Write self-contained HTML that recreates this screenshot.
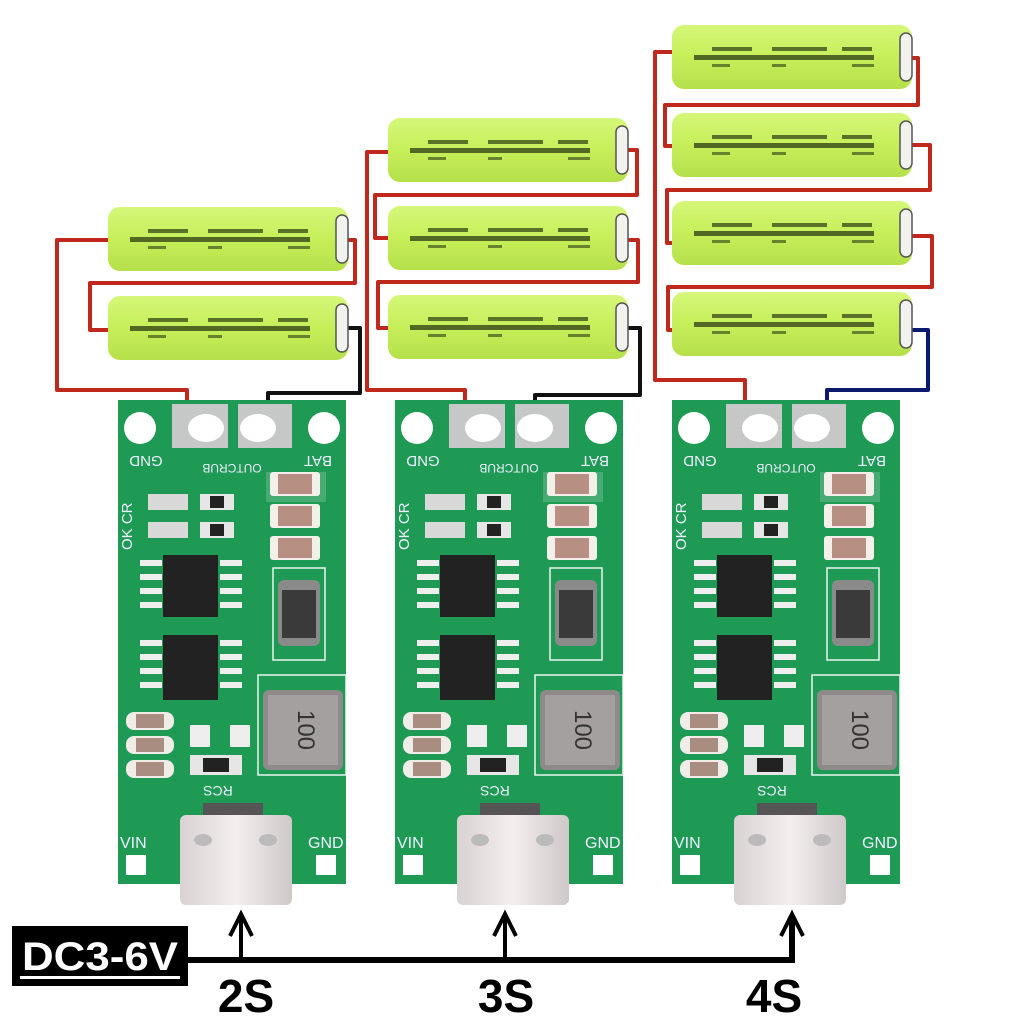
<!DOCTYPE html>
<html><head><meta charset="utf-8"><style>
html,body{margin:0;padding:0;background:#fff;}
svg{display:block;font-family:"Liberation Sans",sans-serif;}
</style></head><body>
<svg width="1024" height="1024" viewBox="0 0 1024 1024">
<defs>
<linearGradient id="bat" x1="0" y1="0" x2="0" y2="1">
<stop offset="0" stop-color="#d6f77a"/><stop offset="0.5" stop-color="#c6ef5a"/><stop offset="1" stop-color="#b6e04a"/>
</linearGradient>
<linearGradient id="usb" x1="0" y1="0" x2="1" y2="0">
<stop offset="0" stop-color="#d8d2d2"/><stop offset="0.5" stop-color="#f4eeee"/><stop offset="1" stop-color="#cfc8c8"/>
</linearGradient>
<g id="battery">
<rect x="0" y="0" width="240" height="64" rx="12" fill="url(#bat)"/>
<rect x="228" y="8" width="12" height="48" rx="6" fill="#f2f2ee" stroke="#555" stroke-width="1.5"/>
<rect x="22" y="30" width="180" height="5" fill="#2b3a10" opacity="0.75"/>
<rect x="40" y="22" width="40" height="4" fill="#2b3a10" opacity="0.7"/>
<rect x="100" y="22" width="55" height="4" fill="#2b3a10" opacity="0.7"/>
<rect x="170" y="22" width="30" height="4" fill="#2b3a10" opacity="0.7"/>
<rect x="40" y="39" width="18" height="3" fill="#2b3a10" opacity="0.6"/>
<rect x="100" y="39" width="14" height="3" fill="#2b3a10" opacity="0.6"/>
<rect x="180" y="39" width="22" height="3" fill="#2b3a10" opacity="0.6"/>
</g>
<g id="board">
<rect x="0" y="0" width="228" height="484" fill="#1e9a55"/>
<circle cx="22" cy="28" r="16" fill="#fff"/>
<circle cx="206" cy="28" r="16" fill="#fff"/>
<rect x="54" y="4" width="56" height="44" fill="#c6c8c8"/>
<ellipse cx="88" cy="28" rx="18" ry="14" fill="#fff"/>
<rect x="120" y="4" width="54" height="44" fill="#c6c8c8"/>
<ellipse cx="140" cy="28" rx="18" ry="14" fill="#fff"/>
<rect x="148" y="72" width="60" height="30" fill="#eee" opacity="0.2"/>
<rect x="152" y="72" width="50" height="24" rx="3" fill="#f3efe9"/><rect x="160" y="74" width="34" height="20" fill="#b79083"/>
<rect x="152" y="104" width="50" height="24" rx="3" fill="#f3efe9"/><rect x="160" y="106" width="34" height="20" fill="#b79083"/>
<rect x="152" y="136" width="50" height="24" rx="3" fill="#f3efe9"/><rect x="160" y="138" width="34" height="20" fill="#b79083"/>
<rect x="155" y="168" width="52" height="92" fill="none" stroke="#eaf5ee" stroke-width="1.5"/>
<rect x="160" y="180" width="42" height="66" rx="6" fill="#8a8a8a"/>
<rect x="164" y="190" width="34" height="48" fill="#3a3a3a"/>
<rect x="30" y="94" width="40" height="16" fill="#d8d8d8"/><rect x="30" y="122" width="40" height="16" fill="#d8d8d8"/>
<rect x="82" y="94" width="34" height="16" fill="#e6e6e6"/><rect x="92" y="96" width="14" height="12" fill="#222"/>
<rect x="82" y="122" width="34" height="16" fill="#e6e6e6"/><rect x="92" y="124" width="14" height="12" fill="#222"/>
<g fill="#eee">
<rect x="22" y="160" width="22" height="6"/><rect x="22" y="174" width="22" height="6"/><rect x="22" y="188" width="22" height="6"/><rect x="22" y="202" width="22" height="6"/>
<rect x="102" y="160" width="22" height="6"/><rect x="102" y="174" width="22" height="6"/><rect x="102" y="188" width="22" height="6"/><rect x="102" y="202" width="22" height="6"/>
<rect x="22" y="240" width="22" height="6"/><rect x="22" y="254" width="22" height="6"/><rect x="22" y="268" width="22" height="6"/><rect x="22" y="282" width="22" height="6"/>
<rect x="102" y="240" width="22" height="6"/><rect x="102" y="254" width="22" height="6"/><rect x="102" y="268" width="22" height="6"/><rect x="102" y="282" width="22" height="6"/>
</g>
<rect x="45" y="155" width="55" height="62" fill="#222"/>
<rect x="45" y="235" width="55" height="65" fill="#222"/>
<rect x="140" y="275" width="88" height="100" fill="none" stroke="#eaf5ee" stroke-width="1.5"/>
<rect x="145" y="290" width="80" height="80" rx="6" fill="#8e8a8a"/>
<rect x="150" y="295" width="70" height="70" fill="#a5a0a0"/>
<text transform="translate(180,330) rotate(90)" text-anchor="middle" font-size="24" fill="#333">100</text>
<g fill="#f0ece8"><rect x="8" y="312" width="48" height="18" rx="8"/><rect x="8" y="336" width="48" height="18" rx="8"/><rect x="8" y="360" width="48" height="18" rx="8"/></g>
<g fill="#a88d80"><rect x="18" y="314" width="28" height="14"/><rect x="18" y="338" width="28" height="14"/><rect x="18" y="362" width="28" height="14"/></g>
<rect x="72" y="325" width="20" height="22" fill="#eee"/><rect x="112" y="325" width="20" height="22" fill="#eee"/>
<rect x="72" y="355" width="52" height="20" fill="#e6e6e6"/><rect x="85" y="358" width="26" height="14" fill="#222"/>
<text transform="translate(100,386) rotate(180)" text-anchor="middle" font-size="14" fill="#eef">RCS</text>
<text transform="translate(28,56) rotate(180)" text-anchor="middle" font-size="15" fill="#eef">GND</text>
<text transform="translate(200,56) rotate(180)" text-anchor="middle" font-size="15" fill="#eef">BAT</text>
<text transform="translate(114,64) rotate(180)" text-anchor="middle" font-size="12" fill="#eef">OUTCRUB</text>
<text transform="translate(14,150) rotate(-90)" font-size="15" fill="#eef">OK CR</text>
<text x="2" y="448" font-size="16" fill="#eef">VIN</text>
<text x="190" y="448" font-size="16" fill="#eef">GND</text>
<rect x="8" y="455" width="20" height="20" fill="#fff"/><rect x="198" y="455" width="20" height="20" fill="#fff"/>
<rect x="85" y="403" width="60" height="14" fill="#555"/>
<rect x="62" y="415" width="112" height="90" rx="6" fill="url(#usb)"/>
<ellipse cx="85" cy="440" rx="9" ry="6" fill="#bbb"/><ellipse cx="150" cy="440" rx="9" ry="6" fill="#bbb"/>
</g>
</defs>

<!-- wires 2S -->
<g fill="none" stroke-width="4" stroke-linejoin="round">
<path d="M187 418 V390 H57 V240 H110" stroke="#c0281e"/>
<path d="M348 240 H355 V283 H90 V330 H110" stroke="#c0281e"/>
<path d="M345 328 H360 V393 H268 V420" stroke="#111"/>
<path d="M465 418 V390 H367 V152 H388" stroke="#c0281e"/>
<path d="M628 150 H637 V195 H375 V238 H388" stroke="#c0281e"/>
<path d="M628 240 H638 V282 H378 V328 H388" stroke="#c0281e"/>
<path d="M628 328 H640 V395 H535 V420" stroke="#111"/>
<path d="M745 418 V380 H655 V52 H674" stroke="#c0281e"/>
<path d="M910 58 H918 V105 H665 V146 H674" stroke="#c0281e"/>
<path d="M908 145 H930 V190 H667 V243 H674" stroke="#c0281e"/>
<path d="M908 236 H932 V287 H668 V330 H674" stroke="#c0281e"/>
<path d="M908 330 H928 V390 H827 V420" stroke="#0c1a6e"/>
</g>

<use href="#battery" x="108" y="207"/>
<use href="#battery" x="108" y="296"/>
<use href="#battery" x="388" y="118"/>
<use href="#battery" x="388" y="206"/>
<use href="#battery" x="388" y="295"/>
<use href="#battery" x="672" y="25"/>
<use href="#battery" x="672" y="113"/>
<use href="#battery" x="672" y="201"/>
<use href="#battery" x="672" y="292"/>

<use href="#board" x="118" y="400"/>
<use href="#board" x="395" y="400"/>
<use href="#board" x="672" y="400"/>

<!-- bottom -->
<path d="M188 960 H792 V916" fill="none" stroke="#000" stroke-width="6"/>
<line x1="241" y1="960" x2="241" y2="916" stroke="#000" stroke-width="4"/>
<line x1="505" y1="960" x2="505" y2="916" stroke="#000" stroke-width="4"/>
<g fill="none" stroke="#000" stroke-width="4">
<path d="M230 936 L241 914 L252 936"/><path d="M494 936 L505 914 L516 936"/><path d="M781 936 L792 914 L803 936"/>
</g>
<rect x="12" y="926" width="176" height="60" fill="#000"/>
<text x="100" y="970" text-anchor="middle" font-size="40" font-weight="bold" fill="#fff" textLength="156" lengthAdjust="spacingAndGlyphs">DC3-6V</text>
<rect x="20" y="976" width="160" height="3" fill="#fff"/>
<g font-size="46" font-weight="bold" fill="#000" text-anchor="middle">
<text x="246" y="1012">2S</text><text x="506" y="1012">3S</text><text x="774" y="1012">4S</text>
</g>
</svg>
</body></html>
